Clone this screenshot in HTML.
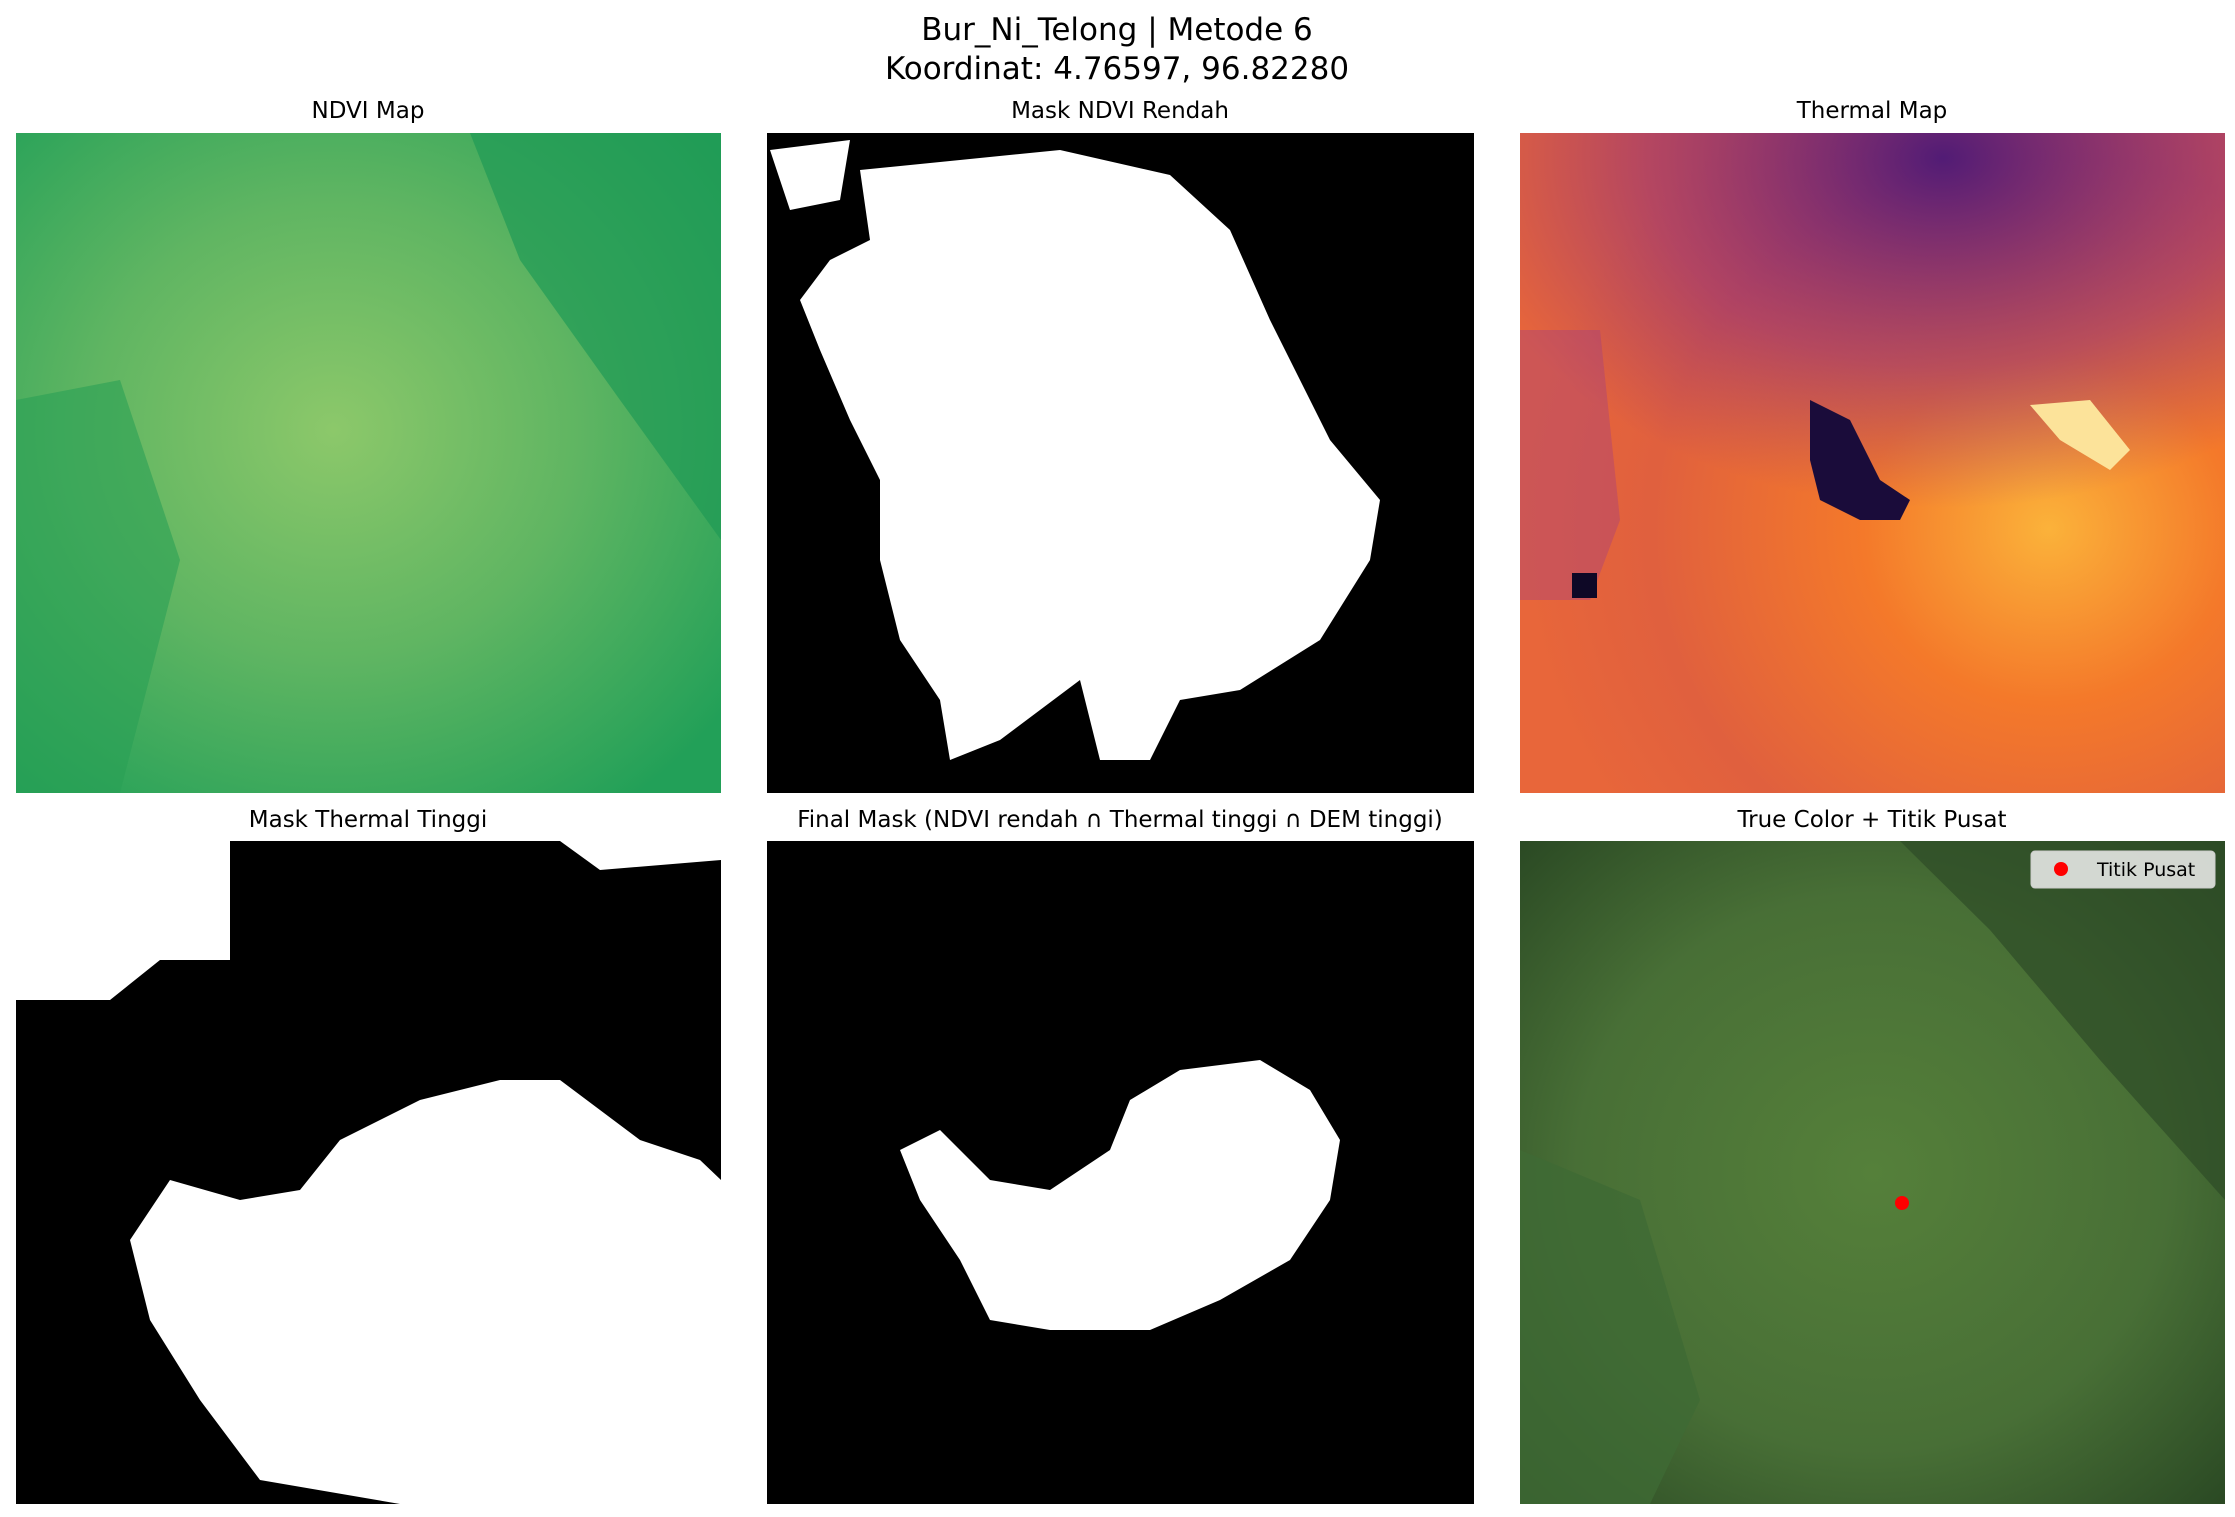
<!DOCTYPE html>
<html><head><meta charset="utf-8"><style>
body{margin:0;background:#fff;}
svg{display:block;font-family:"DejaVu Sans","Liberation Sans",sans-serif;}
</style></head><body>
<svg width="2235" height="1517" viewBox="0 0 2235 1517">
<defs>
<radialGradient id="ndviG" cx="0.45" cy="0.45" r="0.7">
<stop offset="0" stop-color="#8cc86a"/><stop offset="0.5" stop-color="#5fb562"/><stop offset="1" stop-color="#22a058"/></radialGradient>
<radialGradient id="thG" cx="0.75" cy="0.6" r="0.75">
<stop offset="0" stop-color="#fbb23a"/><stop offset="0.35" stop-color="#f4792a"/><stop offset="0.75" stop-color="#e0603e"/><stop offset="1" stop-color="#e8663a"/></radialGradient>
<radialGradient id="thTop" cx="0.6" cy="0.05" r="0.7">
<stop offset="0" stop-color="#4a1878" stop-opacity="0.95"/><stop offset="0.6" stop-color="#8a2c80" stop-opacity="0.55"/><stop offset="1" stop-color="#8a2c80" stop-opacity="0"/></radialGradient>
<radialGradient id="tcG" cx="0.5" cy="0.5" r="0.7">
<stop offset="0" stop-color="#55803a"/><stop offset="0.6" stop-color="#486f36"/><stop offset="1" stop-color="#2b4a24"/></radialGradient>
</defs>
<text x="1117" y="40" font-size="31" text-anchor="middle">Bur_Ni_Telong | Metode 6</text>
<text x="1117" y="79" font-size="31" text-anchor="middle">Koordinat: 4.76597, 96.82280</text>

<g>
<text x="368" y="118" font-size="23" text-anchor="middle">NDVI Map</text>
<rect x="16" y="133" width="705" height="660" fill="url(#ndviG)"/>
<path d="M470 133 L721 133 L721 540 L620 400 L520 260 Z" fill="#1f9a55" opacity="0.7"/>
<path d="M16 400 L120 380 L180 560 L120 793 L16 793 Z" fill="#2aa055" opacity="0.6"/>
</g>

<g>
<text x="1120" y="118" font-size="23" text-anchor="middle">Mask NDVI Rendah</text>
<rect x="767" y="133" width="707" height="660" fill="#000"/>
<path d="M860 170 L960 160 L1060 150 L1170 175 L1230 230 L1270 320 L1330 440 L1380 500 L1370 560 L1320 640 L1240 690 L1180 700 L1150 760 L1100 760 L1080 680 L1000 740 L950 760 L940 700 L900 640 L880 560 L880 480 L850 420 L820 350 L800 300 L830 260 L870 240 Z" fill="#fff"/>
<path d="M770 150 L850 140 L840 200 L790 210 Z" fill="#fff"/>
</g>

<g>
<text x="1872" y="118" font-size="23" text-anchor="middle">Thermal Map</text>
<rect x="1520" y="133" width="705" height="660" fill="url(#thG)"/>
<rect x="1520" y="133" width="705" height="500" fill="url(#thTop)"/>
<path d="M1520 330 L1600 330 L1620 520 L1590 600 L1520 600 Z" fill="#9a3a8a" opacity="0.35"/>
<path d="M1810 400 L1850 420 L1880 480 L1910 500 L1900 520 L1860 520 L1820 500 L1810 460 Z" fill="#1a0c3a"/>
<rect x="1572" y="573" width="25" height="25" fill="#0e0826"/>
<path d="M2030 405 L2090 400 L2130 450 L2110 470 L2060 440 Z" fill="#fce39a"/>
</g>

<g>
<text x="368" y="827" font-size="23" text-anchor="middle">Mask Thermal Tinggi</text>
<rect x="16" y="841" width="705" height="663" fill="#000"/>
<path d="M16 841 L230 841 L230 960 L160 960 L110 1000 L16 1000 Z" fill="#fff"/>
<path d="M340 1140 L420 1100 L500 1080 L560 1080 L640 1140 L700 1160 L721 1180 L721 1504 L400 1504 L260 1480 L200 1400 L150 1320 L130 1240 L170 1180 L240 1200 L300 1190 Z" fill="#fff"/>
<path d="M560 841 L721 841 L721 860 L600 870 Z" fill="#fff"/>
</g>

<g>
<text x="1120" y="827" font-size="23" text-anchor="middle">Final Mask (NDVI rendah ∩ Thermal tinggi ∩ DEM tinggi)</text>
<rect x="767" y="841" width="707" height="663" fill="#000"/>
<path d="M1180 1070 L1260 1060 L1310 1090 L1340 1140 L1330 1200 L1290 1260 L1220 1300 L1150 1330 L1050 1330 L990 1320 L960 1260 L920 1200 L900 1150 L940 1130 L990 1180 L1050 1190 L1110 1150 L1130 1100 Z" fill="#fff"/>
</g>

<g>
<text x="1872" y="827" font-size="23" text-anchor="middle">True Color + Titik Pusat</text>
<rect x="1520" y="841" width="705" height="663" fill="url(#tcG)"/>
<path d="M1900 841 L2225 841 L2225 1200 L2100 1060 L1990 930 Z" fill="#2d4c26" opacity="0.7"/>
<path d="M1520 1150 L1640 1200 L1700 1400 L1650 1504 L1520 1504 Z" fill="#3f6a35" opacity="0.8"/>
<circle cx="1902" cy="1203" r="7" fill="#ff0000"/>
<g>
<rect x="2031" y="851" width="184" height="37" rx="4" fill="#f0f0f0" fill-opacity="0.85" stroke="#ccc"/>
<circle cx="2061" cy="869" r="7" fill="#ff0000"/>
<text x="2097" y="876" font-size="19">Titik Pusat</text>
</g>
</g>
</svg>
</body></html>
